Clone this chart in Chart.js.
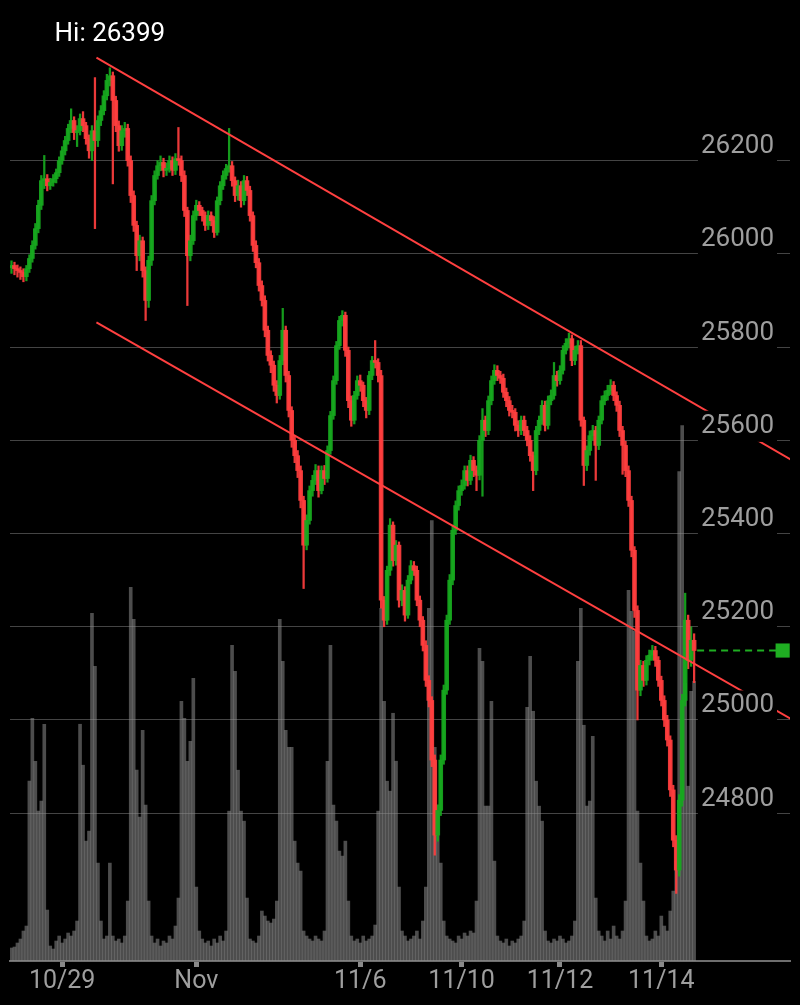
<!DOCTYPE html>
<html>
<head>
<meta charset="utf-8">
<script src="https://cdn.jsdelivr.net/npm/chart.js@4.4.1/dist/chart.umd.min.js"></script>
<style>
html,body{margin:0;padding:0;background:#000;}
#wrap{width:800px;height:1005px;position:relative;}
</style>
</head>
<body>
<div id="wrap"><canvas id="c"></canvas></div>
<script>
// ---- data ----
const closes = [25975,25968,25964,25960,25951,25968,25990,26018,26054,26104,
26157,26161,26146,26153,26161,26174,26200,26221,26243,26269,
26286,26260,26264,26290,26275,26247,26221,26264,26243,26286,
26307,26339,26372,26382,26329,26275,26232,26264,26269,26200,
26125,26061,25996,26028,25964,25900,25986,26114,26168,26189,
26196,26179,26183,26200,26179,26204,26200,26168,26093,25996,
26028,26082,26104,26093,26082,26061,26082,26071,26046,26114,
26146,26168,26183,26189,26157,26125,26146,26114,26157,26136,
26082,26018,25981,25932,25900,25836,25782,25761,25718,25696,
25771,25836,25739,25664,25600,25567,25535,25471,25375,25428,
25492,25514,25535,25492,25535,25518,25578,25653,25728,25803,
25857,25868,25793,25685,25643,25696,25728,25718,25685,25664,
25739,25771,25767,25739,25257,25214,25321,25418,25342,25375,
25257,25278,25225,25300,25331,25321,25257,25214,25160,25085,
25042,24914,24753,24806,24914,25064,25214,25300,25407,25460,
25492,25503,25535,25514,25557,25535,25525,25600,25643,25621,
25685,25728,25750,25739,25733,25703,25685,25664,25660,25632,
25621,25643,25621,25600,25567,25535,25621,25643,25675,25632,
25685,25696,25739,25728,25750,25793,25808,25818,25771,25793,
25803,25643,25546,25578,25610,25621,25589,25643,25685,25696,
25707,25718,25696,25675,25621,25589,25535,25471,25364,25235,
25064,25117,25085,25128,25139,25149,25128,25085,25042,25000,
24957,24850,24742,24678,24828,25042,25214,25128,25171,25149];

const opens = [25970,25975,25968,25964,25960,25951,25968,25990,26018,26054,
26104,26157,26161,26146,26153,26161,26174,26200,26221,26243,
26269,26286,26260,26264,26290,26275,26247,26221,26264,26243,
26286,26307,26339,26372,26382,26329,26275,26232,26264,26269,
26200,26125,26061,25996,26028,25964,25900,25986,26114,26168,
26189,26196,26179,26183,26200,26179,26204,26200,26168,26093,
25996,26028,26082,26104,26093,26082,26061,26082,26071,26046,
26114,26146,26168,26183,26189,26157,26125,26146,26114,26157,
26136,26082,26018,25981,25932,25900,25836,25782,25761,25718,
25696,25771,25836,25739,25664,25600,25567,25535,25471,25375,
25428,25492,25514,25535,25492,25535,25518,25578,25653,25728,
25803,25857,25868,25793,25685,25643,25696,25728,25718,25685,
25664,25739,25771,25767,25739,25257,25214,25321,25418,25342,
25375,25257,25278,25225,25300,25331,25321,25257,25214,25160,
25085,25042,24914,24753,24806,24914,25064,25214,25300,25407,
25460,25492,25503,25535,25514,25557,25535,25525,25600,25643,
25621,25685,25728,25750,25739,25733,25703,25685,25664,25660,
25632,25621,25643,25621,25600,25567,25535,25621,25643,25675,
25632,25685,25696,25739,25728,25750,25793,25808,25818,25771,
25793,25803,25643,25546,25578,25610,25621,25589,25643,25685,
25696,25707,25718,25696,25675,25621,25589,25535,25471,25364,
25235,25064,25117,25085,25128,25139,25149,25128,25085,25042,
25000,24957,24850,24742,24678,24828,25042,25214,25128,25171];

const highs = [25985,25982,25976,25972,25968,25975,25998,26028,26065,26115,
26168,26211,26170,26162,26170,26182,26208,26230,26252,26278,
26311,26294,26275,26300,26305,26282,26255,26275,26378,26296,
26318,26350,26385,26399,26390,26338,26285,26275,26282,26278,
26210,26135,26070,26040,26036,25972,25995,26125,26178,26200,
26210,26205,26195,26210,26208,26215,26271,26210,26178,26100,
26040,26092,26115,26112,26100,26090,26092,26090,26080,26122,
26155,26178,26192,26269,26198,26165,26158,26155,26168,26166,
26145,26090,26028,25990,25942,25910,25845,25792,25770,25728,
25782,25883,25845,25748,25672,25610,25578,25545,25480,25440,
25502,25525,25548,25545,25545,25546,25588,25662,25738,25812,
25866,25878,25875,25800,25695,25705,25738,25740,25725,25692,
25748,25780,25814,25775,25750,25265,25330,25432,25425,25385,
25382,25290,25286,25310,25342,25340,25330,25266,25222,25170,
25095,25050,24925,24818,24925,25075,25225,25312,25418,25470,
25502,25515,25545,25545,25568,25565,25545,25610,25668,25652,
25695,25738,25762,25760,25748,25742,25712,25694,25675,25668,
25642,25652,25652,25630,25610,25575,25630,25652,25685,25684,
25695,25708,25767,25748,25760,25803,25818,25830,25826,25802,
25814,25814,25650,25588,25620,25632,25630,25652,25695,25706,
25718,25730,25726,25704,25684,25630,25598,25545,25480,25372,
25245,25128,25126,25138,25150,25160,25158,25136,25094,25052,
25010,24966,24860,24752,24840,25055,25272,25225,25200,25185];

const lows = [25958,25955,25950,25945,25940,25942,25960,25982,26010,26045,
26095,26140,26135,26138,26145,26152,26166,26192,26212,26235,
26260,26245,26230,26255,26262,26235,26205,26200,26054,26230,
26275,26298,26330,26360,26150,26262,26220,26222,26250,26188,
26110,26048,25964,25985,25950,25857,25885,25975,26105,26160,
26178,26165,26168,26175,26168,26170,26190,26155,26080,25889,
25985,26020,26072,26082,26070,26050,26052,26060,26035,26040,
26105,26138,26160,26175,26145,26112,26115,26100,26105,26125,
26070,26005,25970,25920,25888,25822,25770,25745,25705,25680,
25688,25762,25725,25650,25585,25552,25520,25455,25282,25365,
25420,25480,25505,25478,25485,25505,25510,25570,25645,25720,
25795,25845,25780,25670,25630,25635,25688,25705,25672,25648,
25655,25730,25755,25725,25240,25200,25205,25310,25330,25332,
25242,25245,25212,25218,25292,25310,25245,25200,25148,25072,
25028,24900,24710,24740,24795,24905,25055,25205,25290,25398,
25450,25482,25495,25502,25505,25522,25492,25515,25480,25608,
25612,25676,25720,25728,25722,25692,25672,25652,25648,25620,
25608,25612,25610,25588,25555,25492,25526,25612,25634,25620,
25624,25676,25688,25716,25720,25742,25785,25798,25760,25762,
25785,25630,25503,25535,25568,25600,25514,25580,25635,25676,
25686,25698,25685,25662,25608,25527,25522,25458,25350,25220,
25000,25052,25072,25075,25118,25128,25115,25072,25030,24986,
24944,24836,24728,24628,24665,24815,25030,25110,25115,25080];

const volumes = [13,14,18,22,30,35,180,243,200,150,
160,237,51,15,12,20,25,18,22,28,
25,30,40,237,196,120,130,348,295,98,
40,22,25,98,25,20,22,18,25,60,
374,342,191,144,231,156,60,25,18,22,
15,20,18,25,22,35,63,260,243,200,
220,283,74,30,22,18,20,15,22,18,
25,20,30,150,316,290,191,150,140,63,
22,20,18,25,50,45,40,38,42,60,
342,300,231,214,214,120,98,90,30,25,
22,20,25,22,20,30,200,316,156,140,
110,105,120,60,25,20,22,18,25,20,
22,25,36,150,353,260,180,170,248,200,
74,30,25,20,22,25,30,22,40,74,
353,441,214,150,98,40,25,22,20,18,
25,22,28,25,30,28,60,313,300,155,
155,260,100,25,20,18,22,15,20,18,
22,25,40,254,305,250,180,155,140,30,
20,18,22,20,25,22,18,20,25,40,
300,353,236,155,160,225,63,30,25,20,
30,22,35,25,22,30,60,371,350,330,
150,98,60,25,20,22,30,25,45,35,
30,50,70,100,490,536,278,175,270,280];

const tickIndex = [17, 62, 117, 151, 184, 218];
const tickText  = ['10/29', 'Nov', '11/6', '11/10', '11/12', '11/14'];
const priceTicks = [24800, 25000, 25200, 25400, 25600, 25800, 26000, 26200];
const upperTrend = [[28.5, 26421], [263.5, 25551]];
const lowerTrend = [[28.5, 25853], [263.5, 24995]];
const lastPriceEnd = 258.7;

// ---- build ----
const GREEN = 'rgba(23,168,30,0.92)', RED = 'rgba(255,62,62,0.92)';
const candleColor = closes.map((c, i) => c >= opens[i] ? GREEN : RED);
const lastClose = closes[closes.length - 1];
const lastIdx = closes.length - 1;

const hiLabel = {
  id: 'hiLabel',
  afterDatasetsDraw(chart) {
    let mi = 0;
    highs.forEach((h, i) => { if (h > highs[mi]) mi = i; });
    const xs = chart.scales.x, ys = chart.scales.y;
    const ctx = chart.ctx;
    ctx.save();
    ctx.font = '26px Roboto';
    ctx.fillStyle = '#ffffff';
    ctx.textAlign = 'center';
    ctx.textBaseline = 'middle';
    ctx.fillText('Hi: ' + highs[mi], xs.getPixelForValue(mi), ys.getPixelForValue(highs[mi]) - 33);
    ctx.restore();
  }
};

new Chart(document.getElementById('c'), {
  type: 'bar',
  data: {
    datasets: [
      {
        label: 'volume',
        yAxisID: 'yv',
        data: volumes.map((v, i) => ({x: i, y: v})),
        backgroundColor: 'rgba(140,140,140,0.55)',
        barPercentage: 1, categoryPercentage: 1, grouped: false,
        order: 5
      },
      {
        label: 'wick',
        data: highs.map((h, i) => ({x: i, y: [lows[i], h]})),
        backgroundColor: candleColor,
        barThickness: 1.6, grouped: false,
        order: 4
      },
      {
        label: 'body',
        data: opens.map((o, i) => ({x: i, y: [o, closes[i]]})),
        backgroundColor: candleColor,
        barThickness: 4, grouped: false, minBarLength: 2,
        order: 3
      },
      {
        type: 'line', label: 'upper',
        data: upperTrend.map(p => ({x: p[0], y: p[1]})),
        borderColor: '#ff4040', borderWidth: 2, pointRadius: 0, order: 2
      },
      {
        type: 'line', label: 'lower',
        data: lowerTrend.map(p => ({x: p[0], y: p[1]})),
        borderColor: '#ff4040', borderWidth: 2, pointRadius: 0, order: 2
      },
      {
        type: 'line', label: 'last',
        data: [{x: lastIdx + 1, y: lastClose}, {x: lastPriceEnd, y: lastClose}],
        borderColor: '#1fae22', borderWidth: 2, borderDash: [7, 5],
        pointRadius: [0, 10], pointStyle: 'rect',
        pointBackgroundColor: '#1fae22', pointBorderWidth: 0,
        order: 1, clip: false
      }
    ]
  },
  options: {
    responsive: true,
    maintainAspectRatio: false,
    animation: false,
    layout: {padding: {left: 8, right: 7, top: 0, bottom: 8}},
    plugins: {legend: {display: false}, tooltip: {enabled: false}},
    scales: {
      x: {
        type: 'linear',
        min: -0.5, max: 261.1667,
        offset: false,
        afterBuildTicks: s => { s.ticks = tickIndex.map(v => ({value: v})); },
        afterFit: s => { s.paddingLeft = 0; s.paddingRight = 0; },
        grid: {offset: false, drawOnChartArea: false, drawTicks: true, tickLength: 6, tickColor: '#8a8a8a', tickWidth: 5},
        border: {display: true, color: '#6e6e6e', width: 2},
        ticks: {
          autoSkip: false, maxRotation: 0, padding: 0,
          color: '#9e9e9e', font: {family: 'Roboto', size: 25},
          callback: v => { const k = tickIndex.indexOf(v); return k >= 0 ? tickText[k] : ''; }
        }
      },
      y: {
        position: 'right',
        min: 24483, max: 26523,
        afterBuildTicks: s => { s.ticks = priceTicks.map(v => ({value: v})); },
        afterFit: s => { s.width = 0; s.paddingTop = 0; s.paddingBottom = 0; },
        grid: {color: '#444444', lineWidth: 1, drawTicks: false},
        border: {display: false},
        ticks: {
          mirror: true, padding: -16, labelOffset: -14, z: 1,
          color: '#9e9e9e', font: {family: 'Roboto', size: 26},
          callback: v => String(v),
          showLabelBackdrop: true, backdropColor: '#000000',
          backdropPadding: {top: 0, bottom: 0, left: 3, right: 3}
        }
      },
      yv: {
        display: false,
        min: 0, max: 952
      }
    }
  },
  plugins: [hiLabel]
});
</script>
</body>
</html>
